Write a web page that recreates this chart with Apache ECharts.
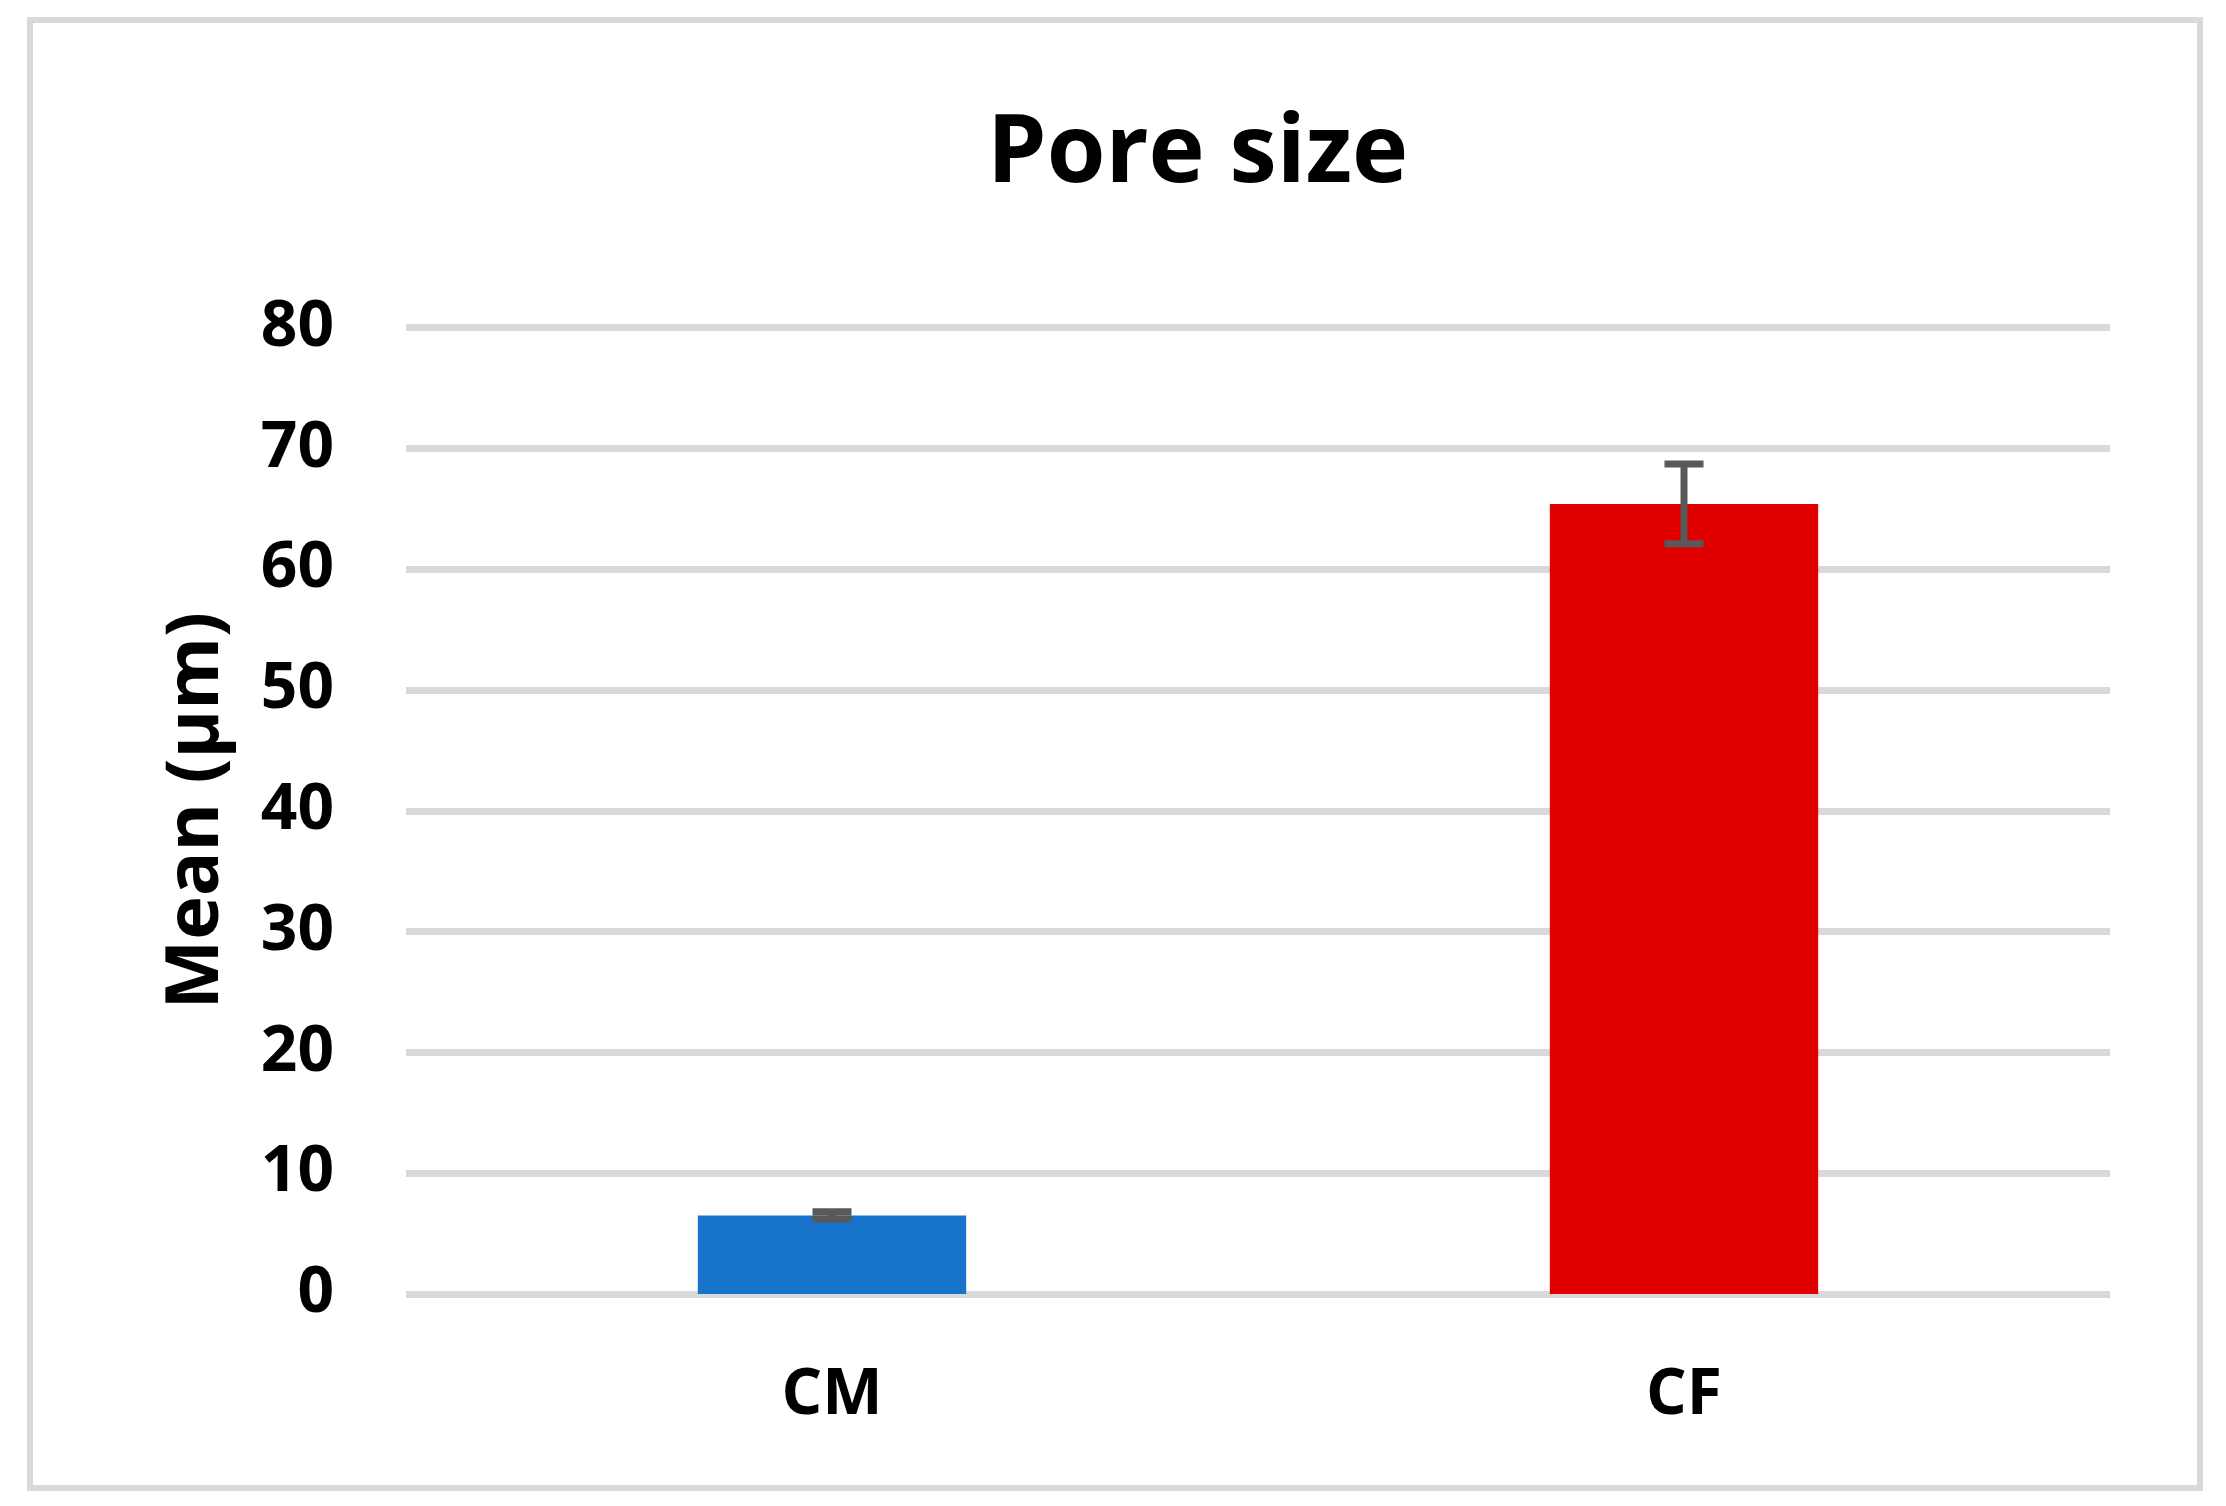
<!DOCTYPE html>
<html>
<head>
<meta charset="utf-8">
<title>Pore size</title>
<script src="https://cdn.jsdelivr.net/npm/echarts@6/dist/echarts.min.js"></script>
<style>
  html, body { margin: 0; padding: 0; background: #fff; }
  #chart { width: 2226px; height: 1506px; }
</style>
</head>
<body>
<div id="chart"></div>
<script>
// data
var categories = ['CM', 'CF'];
var means = [6.5, 65.4];
var errors = [0.3, 3.3];
var barColors = ['#1874CB', '#E00000'];
var yTicks = [0, 80, 10]; // min, max, step

var chart = echarts.init(document.getElementById('chart'));

var barData = means.map(function (v, i) {
  return { value: v, itemStyle: { color: barColors[i] } };
});
var errData = means.map(function (v, i) {
  return [i, v, errors[i]];
});

var option = {
  backgroundColor: '#fff',
  animation: false,
  textStyle: { fontFamily: 'Open Sans', fontWeight: 'bold', color: '#000' },
  title: {
    text: 'Pore size',
    left: 982,
    top: 102,
    textStyle: { fontSize: 95, fontWeight: 'bold', fontFamily: 'Open Sans', color: '#000' }
  },
  graphic: [{
    type: 'rect',
    shape: { x: 30, y: 20, width: 2170, height: 1468 },
    style: { fill: null, stroke: '#d9d9d9', lineWidth: 6 },
    z: -10
  }],
  grid: { left: 406, right: 116, top: 327.5, bottom: 212 },
  xAxis: {
    type: 'category',
    data: categories,
    axisTick: { show: false },
    axisLine: { show: false },
    axisLabel: { fontSize: 64, fontWeight: 'bold', fontFamily: 'Open Sans', color: '#000', margin: 70 }
  },
  yAxis: {
    type: 'value',
    min: yTicks[0],
    max: yTicks[1],
    interval: yTicks[2],
    name: 'Mean (μm)',
    nameLocation: 'middle',
    nameRotate: 90,
    nameGap: 172,
    nameTextStyle: { fontSize: 74, fontWeight: 'bold', fontFamily: 'Open Sans', color: '#000' },
    axisLine: { show: false },
    axisTick: { show: false },
    axisLabel: { fontSize: 64, fontWeight: 'bold', fontFamily: 'Open Sans', color: '#000', margin: 72 },
    splitLine: { lineStyle: { color: '#d9d9d9', width: 7 } }
  },
  series: [{
    type: 'bar',
    data: barData,
    barWidth: '31.5%',
    z: 2
  }, {
    type: 'custom',
    data: errData,
    encode: { x: 0, y: 1 },
    z: 3,
    renderItem: function (params, api) {
      var x = api.value(0), m = api.value(1), e = api.value(2);
      var hi = api.coord([x, m + e]);
      var lo = api.coord([x, m - e]);
      var half = 19.5;
      var st = { stroke: '#595959', lineWidth: 7 };
      return {
        type: 'group',
        children: [
          { type: 'line', shape: { x1: hi[0], y1: hi[1], x2: lo[0], y2: lo[1] }, style: st },
          { type: 'line', shape: { x1: hi[0] - half, y1: hi[1], x2: hi[0] + half, y2: hi[1] }, style: st },
          { type: 'line', shape: { x1: lo[0] - half, y1: lo[1], x2: lo[0] + half, y2: lo[1] }, style: st }
        ]
      };
    }
  }]
};

chart.setOption(option);
</script>
</body>
</html>
